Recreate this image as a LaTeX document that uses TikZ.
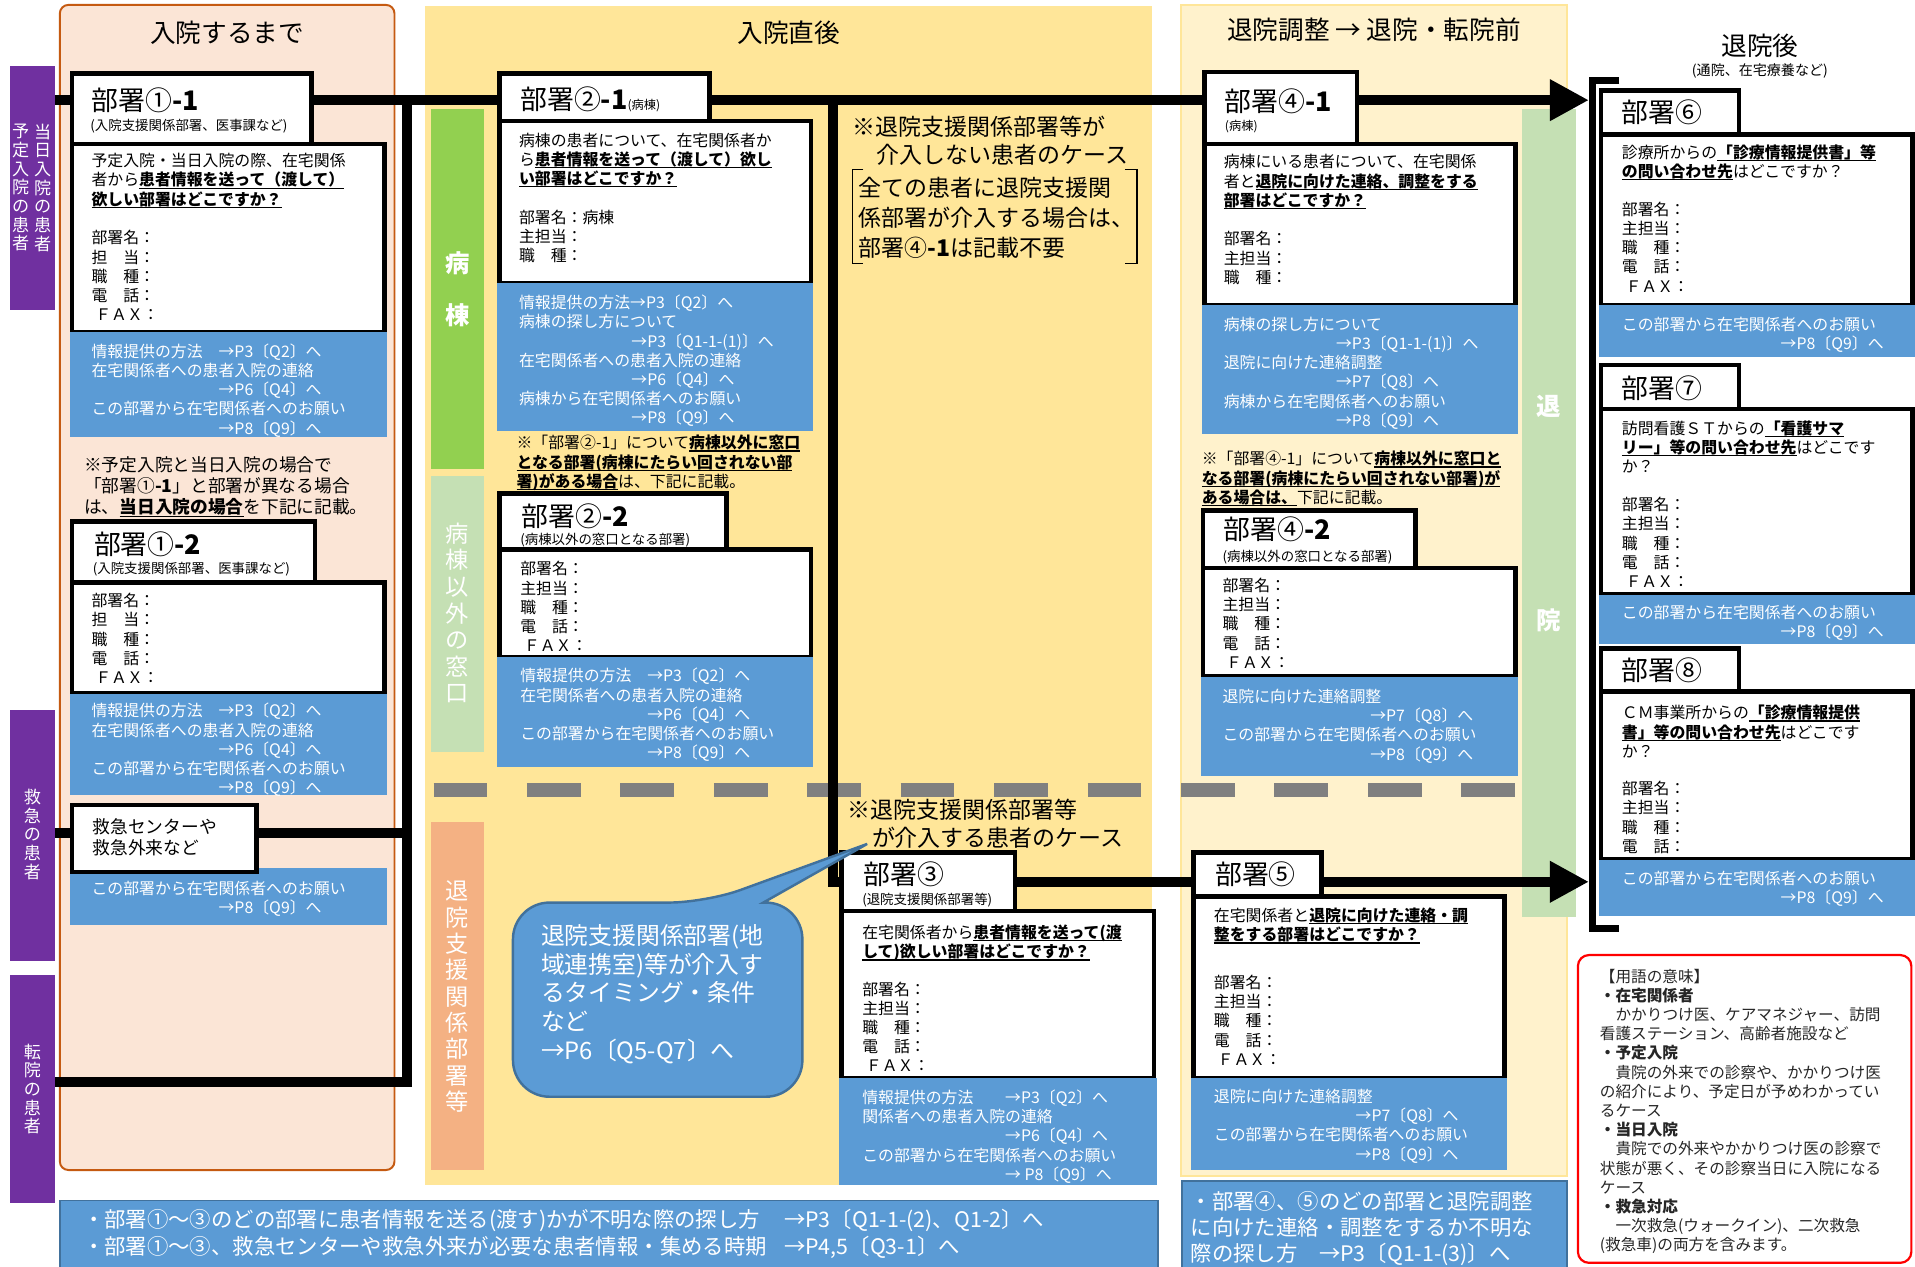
\documentclass[tikz,border=0pt]{standalone}
\usepackage{fontspec}
\setmainfont{Noto Sans CJK JP}
\usetikzlibrary{arrows.meta}
\pgfdeclarelayer{back}
\pgfdeclarelayer{mid}
\pgfsetlayers{back,mid,main}
\definecolor{cpurple}{HTML}{7030A0}
\definecolor{cpeach}{HTML}{FBE5D6}
\definecolor{cbrown}{HTML}{C55A11}
\definecolor{cyellow}{HTML}{FFE699}
\definecolor{clight}{HTML}{FFF2CC}
\definecolor{cblue}{HTML}{5B9BD5}
\definecolor{cbluedk}{HTML}{41719C}
\definecolor{cgreen}{HTML}{92D050}
\definecolor{clgreen}{HTML}{C5E0B4}
\definecolor{csalmon}{HTML}{F4B183}
\definecolor{cgray}{HTML}{808080}
\definecolor{cred}{HTML}{FF0000}
\definecolor{ctext}{HTML}{262626}
\newcommand\setfs[2]{\fontsize{#1}{#2}\selectfont}
\newcommand\mystrut{\rule[-0.12em]{0pt}{0.88em}}
\newcommand\ulb[1]{{\bfseries\setbox0=\hbox{#1}\rlap{\rule[-0.18em]{\wd0}{0.08em}}\box0}}
\newcommand\bx[6]{\pgfmathsetmacro\bxw{#4-#2}\pgfmathsetmacro\bxh{#5-#3}\node[#6,anchor=north west,minimum width=\bxw pt,minimum height=\bxh pt] (#1) at (#2,#3) {};}
\begin{document}
\begin{tikzpicture}[x=1pt,y=-1pt,
  every node/.style={inner sep=0pt,outer sep=0pt},
  txt/.style={anchor=west,align=left,execute at begin node=\mystrut,execute at end node=\mystrut},
  ctr/.style={anchor=center,align=center,execute at begin node=\mystrut,execute at end node=\mystrut},
  boxb/.style={draw=black,line width=3.8pt,fill=white},
  boxl/.style={fill=cblue},
  flow/.style={draw=black,line width=8pt,line join=miter},
  fb/.style={font=\setfs{13}{15.75}},
  fw/.style={font=\setfs{13}{15.75},text=white},
  ftl/.style={font=\setfs{22}{24}},
  fsub/.style={font=\setfs{11}{12}},
  fhead/.style={font=\setfs{21}{24}},
  vlab/.style={ctr,text=white,font=\setfs{14}{15.3}},
]
\useasboundingbox (0,0) rectangle (1568,1037);
\begin{pgfonlayer}{back}
\fill[white] (0,0) rectangle (1568,1037);
\bx{pan1}{49}{4}{323}{958}{fill=cpeach,draw=cbrown,line width=1.6pt,rounded corners=7pt}
\bx{pan2}{348}{5}{943}{970}{fill=cyellow}
\bx{pan3}{967}{4}{1283}{963}{fill=clight,draw=cyellow,line width=1.5pt}
\bx{p1}{8}{54}{45}{254}{fill=cpurple}
\bx{p2}{8}{581}{45}{787}{fill=cpurple}
\bx{p3}{8}{798}{45}{985}{fill=cpurple}
\bx{g1}{353}{89}{396}{384}{fill=cgreen}
\bx{g2}{353}{390}{396}{616}{fill=clgreen}
\bx{g3}{353}{673}{396}{958}{fill=csalmon}
\bx{g4}{1246}{89}{1290}{751}{fill=clgreen}
\draw[cgray,line width=11pt,dash pattern=on 44pt off 32.5pt] (355,647) -- (1241,647);
\end{pgfonlayer}

% headings
\node[ctr,fhead] (h1) at (186,27) {入院するまで};
\node[ctr,fhead] (h2) at (646,27) {入院直後};
\node[ctr,fhead] (h3) at (1125,25) {退院調整 → 退院・転院前};
\node[ctr,fhead] (h4) at (1441,38) {退院後};
\node[ctr,font=\setfs{11.5}{13}] (h4s) at (1441,58) {(通院、在宅療養など)};

% side labels
\node[vlab] (p1a) at (35,154) {当\\日\\入\\院\\の\\患\\者};
\node[vlab] (p1b) at (17,154) {予\\定\\入\\院\\の\\患\\者};
\node[vlab] (p2a) at (26.5,683.5) {救\\急\\の\\患\\者};
\node[vlab] (p3a) at (26.5,892) {転\\院\\の\\患\\者};
\node[ctr,text=white,font=\bfseries\setfs{20}{42}] (g1a) at (374.5,237) {病\\棟};
\node[ctr,text=white,font=\setfs{19}{21.8}] (g2a) at (374.5,502.5) {病\\棟\\以\\外\\の\\窓\\口};
\node[ctr,text=white,font=\setfs{19}{21.6}] (g3a) at (374.5,816.5) {退\\院\\支\\援\\関\\係\\部\\署\\等};
\node[ctr,text=white,font=\bfseries\setfs{20}{175}] (g4a) at (1268,420.5) {退\\院};

% ---------- column 1 ----------
\bx{t11}{59}{60}{255}{118}{boxb}
\bx{b11}{59}{118}{315}{272}{boxb}
\bx{l11}{57}{272}{317}{358}{boxl}
\node[txt,ftl] (t11a) at (75,82.5) {部署①\textbf{-1}};
\node[txt,fsub] (t11b) at (74,103.5) {(入院支援関係部署、医事課など)};
\node[txt,fb] (b11q) at (75,148) {予定入院・当日入院の際、在宅関係\\者から\ulb{患者情報を送って（渡して）}\\\ulb{欲しい部署はどこですか？}};
\node[txt,fb] (b11f) at (75,226.5) {部署名：\\担　当：\\職　種：\\電　話：\\\hspace*{3pt}ＦＡＸ：};
\node[txt,fw] (l11t) at (75,319.5) {情報提供の方法　→P3〔Q2〕へ\\在宅関係者への患者入院の連絡\\\hspace*{104pt}→P6〔Q4〕へ\\この部署から在宅関係者へのお願い\\\hspace*{104pt}→P8〔Q9〕へ};
\node[txt,font=\setfs{14.5}{17.5}] (n1) at (69,398.5) {※予定入院と当日入院の場合で\\「部署①\textbf{-1}」と部署が異なる場合\\は、\ulb{当日入院の場合}を下記に記載。};
\bx{t12}{59}{427}{258}{477}{boxb}
\bx{b12}{59}{477}{315}{568}{boxb}
\bx{l12}{57}{568}{317}{651}{boxl}
\node[txt,ftl] (t12a) at (77,446) {部署①\textbf{-2}};
\node[txt,fsub] (t12b) at (76,466) {(入院支援関係部署、医事課など)};
\node[txt,fb] (b12f) at (75,523.5) {部署名：\\担　当：\\職　種：\\電　話：\\\hspace*{3pt}ＦＡＸ：};
\node[txt,fw] (l12t) at (75,614) {情報提供の方法　→P3〔Q2〕へ\\在宅関係者への患者入院の連絡\\\hspace*{104pt}→P6〔Q4〕へ\\この部署から在宅関係者へのお願い\\\hspace*{104pt}→P8〔Q9〕へ};
\bx{l13}{57}{711}{317}{757}{boxl}
\bx{kyu}{59}{659}{210}{714}{boxb}
\node[txt,font=\setfs{14.5}{17}] (kyut) at (76,685.5) {救急センターや\\救急外来など};
\node[txt,fw] (l13t) at (75,736) {この部署から在宅関係者へのお願い\\\hspace*{104pt}→P8〔Q9〕へ};

% ---------- column 2 ----------
\bx{t21}{409}{60}{581}{99}{boxb}
\bx{b21}{409}{99}{664}{232}{boxb}
\bx{l21}{407}{232}{666}{353}{boxl}
\node[txt,ftl] (t21a) at (426,82) {部署②\textbf{-1}{\setfs{10}{11}(病棟)}};
\node[txt,fb] (b21q) at (425,131) {病棟の患者について、在宅関係者か\\ら\ulb{患者情報を送って（渡して）欲し}\\\ulb{い部署はどこですか？}};
\node[txt,fb] (b21f) at (425,194) {部署名：病棟\\主担当：\\職　種：};
\node[txt,fw] (l21t) at (425,295.5) {情報提供の方法→P3〔Q2〕へ\\病棟の探し方について\\\hspace*{92pt}→P3〔Q1-1-(1)〕へ\\在宅関係者への患者入院の連絡\\\hspace*{92pt}→P6〔Q4〕へ\\病棟から在宅関係者へのお願い\\\hspace*{92pt}→P8〔Q9〕へ};
\node[txt,fb] (n21) at (423,379) {※「部署②-1」について\ulb{病棟以外に窓口}\\\ulb{となる部署(病棟にたらい回されない部}\\\ulb{署)がある場合}は、下記に記載。};
\bx{t22}{409}{404}{595}{450}{boxb}
\bx{b22}{409}{450}{664}{538}{boxb}
\bx{l22}{407}{538}{666}{628}{boxl}
\node[txt,ftl] (t22a) at (427,423) {部署②\textbf{-2}};
\node[txt,fsub] (t22b) at (426,442) {(病棟以外の窓口となる部署)};
\node[txt,fb] (b22f) at (426,497.5) {部署名：\\主担当：\\職　種：\\電　話：\\\hspace*{3pt}ＦＡＸ：};
\node[txt,fw] (l22t) at (426,585.5) {情報提供の方法　→P3〔Q2〕へ\\在宅関係者への患者入院の連絡\\\hspace*{104pt}→P6〔Q4〕へ\\この部署から在宅関係者へのお願い\\\hspace*{104pt}→P8〔Q9〕へ};

\node[txt,font=\setfs{18.8}{23}] (nno) at (698,115.5) {※退院支援関係部署等が\\\hspace*{20pt}介入しない患者のケース};
\node[txt,font=\setfs{18.8}{24.5}] (nall) at (703,178.5) {全ての患者に退院支援関\\係部署が介入する場合は、\\部署④\textbf{-1}は記載不要};
\draw[line width=1.1pt] (707,139) -- (698,139) -- (698,216) -- (707,216);
\draw[line width=1.1pt] (921,139) -- (931,139) -- (931,216) -- (921,216);
\node[txt,font=\setfs{18.8}{23}] (nyes) at (694,674.5) {※退院支援関係部署等\\\hspace*{20pt}が介入する患者のケース};

\bx{t3}{689}{698}{831}{746}{boxb}
\bx{b3}{689}{746}{945}{883}{boxb}
\bx{l3}{687}{883}{947}{970}{boxl}
\node[txt,ftl] (t3a) at (707,716) {部署③};
\node[txt,fsub] (t3b) at (706,737) {(退院支援関係部署等)};
\node[txt,fb] (b3q) at (706,772) {在宅関係者から\ulb{患者情報を送って(渡}\\\ulb{して)欲しい部署はどこですか？}};
\node[txt,fb] (b3f) at (706,841.5) {部署名：\\主担当：\\職　種：\\電　話：\\\hspace*{3pt}ＦＡＸ：};
\node[txt,fw] (l3t) at (706,930.5) {情報提供の方法　　→P3〔Q2〕へ\\関係者への患者入院の連絡\\\hspace*{117pt}→P6〔Q4〕へ\\この部署から在宅関係者へのお願い\\\hspace*{117pt}→ P8〔Q9〕へ};

% ---------- column 3 ----------
\bx{t41}{986}{59}{1111}{118}{boxb}
\bx{b41}{986}{118}{1241}{250}{boxb}
\bx{l41}{984}{250}{1243}{355}{boxl}
\node[txt,ftl] (t41a) at (1003,83) {部署④\textbf{-1}};
\node[txt,font=\setfs{10}{11}] (t41b) at (1003,104) {(病棟)};
\node[txt,fb] (b41q) at (1002,149) {病棟にいる患者について、在宅関係\\者と\ulb{退院に向けた連絡、調整をする}\\\ulb{部署はどこですか？}};
\node[txt,fb] (b41f) at (1002,211.5) {部署名：\\主担当：\\職　種：};
\node[txt,fw] (l41t) at (1002,305.5) {病棟の探し方について\\\hspace*{92pt}→P3〔Q1-1-(1)〕へ\\退院に向けた連絡調整\\\hspace*{92pt}→P7〔Q8〕へ\\病棟から在宅関係者へのお願い\\\hspace*{92pt}→P8〔Q9〕へ};
\node[txt,fb] (n41) at (984,392) {※「部署④-1」について\ulb{病棟以外に窓口と}\\\ulb{なる部署(病棟にたらい回されない部署)が}\\\ulb{ある場合は、}下記に記載。};
\bx{t42}{985}{418}{1159}{465}{boxb}
\bx{b42}{985}{465}{1241}{554}{boxb}
\bx{l42}{983}{554}{1243}{635}{boxl}
\node[txt,ftl] (t42a) at (1002,434) {部署④\textbf{-2}};
\node[txt,fsub] (t42b) at (1001,456) {(病棟以外の窓口となる部署)};
\node[txt,fb] (b42f) at (1001,511) {部署名：\\主担当：\\職　種：\\電　話：\\\hspace*{3pt}ＦＡＸ：};
\node[txt,fw] (l42t) at (1001,594.5) {退院に向けた連絡調整\\\hspace*{121pt}→P7〔Q8〕へ\\この部署から在宅関係者へのお願い\\\hspace*{121pt}→P8〔Q9〕へ};
\bx{t5}{977}{698}{1082}{734}{boxb}
\bx{b5}{977}{734}{1232}{883}{boxb}
\bx{l5}{975}{883}{1234}{958}{boxl}
\node[txt,ftl] (t5a) at (995,716) {部署⑤};
\node[txt,fb] (b5q) at (994,758) {在宅関係者と\ulb{退院に向けた連絡・調}\\\ulb{整をする部署はどこですか？}};
\node[txt,fb] (b5f) at (994,836) {部署名：\\主担当：\\職　種：\\電　話：\\\hspace*{3pt}ＦＡＸ：};
\node[txt,fw] (l5t) at (994,922) {退院に向けた連絡調整\\\hspace*{116pt}→P7〔Q8〕へ\\この部署から在宅関係者へのお願い\\\hspace*{116pt}→P8〔Q9〕へ};

% ---------- column 4 ----------
\bx{t6}{1311}{74}{1424}{110}{boxb}
\bx{b6}{1311}{110}{1566}{250}{boxb}
\bx{l6}{1309}{250}{1568}{292}{boxl}
\node[txt,ftl] (t6a) at (1328,92) {部署⑥};
\node[txt,fb] (b6q) at (1328,133) {診療所からの\ulb{「診療情報提供書」等}\\\ulb{の問い合わせ先}はどこですか？};
\node[txt,fb] (b6f) at (1328,203) {部署名：\\主担当：\\職　種：\\電　話：\\\hspace*{3pt}ＦＡＸ：};
\node[txt,fw] (l6t) at (1328,274) {この部署から在宅関係者へのお願い\\\hspace*{130pt}→P8〔Q9〕へ};
\bx{t7}{1311}{299}{1424}{335}{boxb}
\bx{b7}{1311}{335}{1566}{487}{boxb}
\bx{l7}{1309}{487}{1568}{527}{boxl}
\node[txt,ftl] (t7a) at (1328,318) {部署⑦};
\node[txt,fb] (b7q) at (1328,366.5) {訪問看護ＳＴからの\ulb{「看護サマ}\\\ulb{リー」等の問い合わせ先}はどこです\\か？};
\node[txt,fb] (b7f) at (1328,445) {部署名：\\主担当：\\職　種：\\電　話：\\\hspace*{3pt}ＦＡＸ：};
\node[txt,fw] (l7t) at (1328,510) {この部署から在宅関係者へのお願い\\\hspace*{130pt}→P8〔Q9〕へ};
\bx{t8}{1311}{531}{1424}{566}{boxb}
\bx{b8}{1311}{566}{1566}{704}{boxb}
\bx{l8}{1309}{704}{1568}{750}{boxl}
\node[txt,ftl] (t8a) at (1328,549) {部署⑧};
\node[txt,fb] (b8q) at (1328,599.5) {ＣＭ事業所からの\ulb{「診療情報提供}\\\ulb{書」等の問い合わせ先}はどこです\\か？};
\node[txt,fb] (b8f) at (1328,669.5) {部署名：\\主担当：\\職　種：\\電　話：};
\node[txt,fw] (l8t) at (1328,728) {この部署から在宅関係者へのお願い\\\hspace*{130pt}→P8〔Q9〕へ};

\draw[line width=6pt,line join=miter] (1326,66) -- (1304,66) -- (1304,760) -- (1326,760);

% ---------- flow lines ----------
\coordinate (ty) at (0,82);
\coordinate (a1) at (1301,82);
\coordinate (j1) at (333,82);
\coordinate (j2) at (333,886);
\coordinate (j3) at (333,682);
\coordinate (j4) at (682,82);
\coordinate (a2) at (1301,722);
\begin{pgfonlayer}{mid}
\draw[flow,-{Triangle[length=32pt,width=32pt]}] (p1.east |- ty) -- (a1);
\draw[flow] (p3.east |- j2) -- (j2) -- (j1);
\draw[flow] (p2.east |- j3) -- (j3);
\draw[flow] (j4) |- (t3.west);
\draw[flow,-{Triangle[length=32pt,width=32pt]}] (t3.east) -- (a2);
\end{pgfonlayer}

% ---------- callout ----------
\draw[fill=cblue,draw=cbluedk,line width=2pt] (625,739) [rounded corners=30pt] -- (657,739) -- (657,898) -- (420,898) -- (420,739) -- (578,739) [sharp corners] -- (710,691) -- cycle;
\node[txt,text=white,font=\setfs{19.5}{23.5}] (bub) at (443,814) {退院支援関係部署(地\\域連携室)等が介入す\\るタイミング・条件\\など\\→P6〔Q5-Q7〕へ};

% ---------- bottom boxes ----------
\bx{bl}{49}{983}{948}{1050}{fill=cblue,draw=cbluedk,line width=1.5pt}
\node[txt,text=white,font=\setfs{17.5}{22}] (bl1a) at (68,999) {・部署①～③のどの部署に患者情報を送る(渡す)かが不明な際の探し方};
\node[txt,text=white,font=\setfs{17.5}{22}] (bl1b) at (642,999) {→P3〔Q1-1-(2)、Q1-2〕へ};
\node[txt,text=white,font=\setfs{17.5}{22}] (bl2a) at (68,1021) {・部署①～③、救急センターや救急外来が必要な患者情報・集める時期};
\node[txt,text=white,font=\setfs{17.5}{22}] (bl2b) at (642,1021) {→P4,5〔Q3-1〕へ};
\bx{br}{968}{967}{1283}{1050}{fill=cblue,draw=cbluedk,line width=1.5pt}
\node[txt,text=white,font=\setfs{17.5}{21}] (brt) at (975,1006) {・部署④、⑤のどの部署と退院調整\\に向けた連絡・調整をするか不明な\\際の探し方　→P3〔Q1-1-(3)〕へ};

% ---------- legend ----------
\bx{red}{1292}{782}{1565}{1034}{draw=cred,line width=1.8pt,rounded corners=9pt,fill=white}
\node[txt,text=ctext,font=\setfs{12.8}{15.71}] (redt) at (1310,910) {【用語の意味】\\\textbf{・在宅関係者}\\　かかりつけ医、ケアマネジャー、訪問\\看護ステーション、高齢者施設など\\\textbf{・予定入院}\\　貴院の外来での診察や、かかりつけ医\\の紹介により、予定日が予めわかってい\\るケース\\\textbf{・当日入院}\\　貴院での外来やかかりつけ医の診察で\\状態が悪く、その診察当日に入院になる\\ケース\\\textbf{・救急対応}\\　一次救急(ウォークイン)、二次救急\\(救急車)の両方を含みます。};
\end{tikzpicture}
\end{document}
